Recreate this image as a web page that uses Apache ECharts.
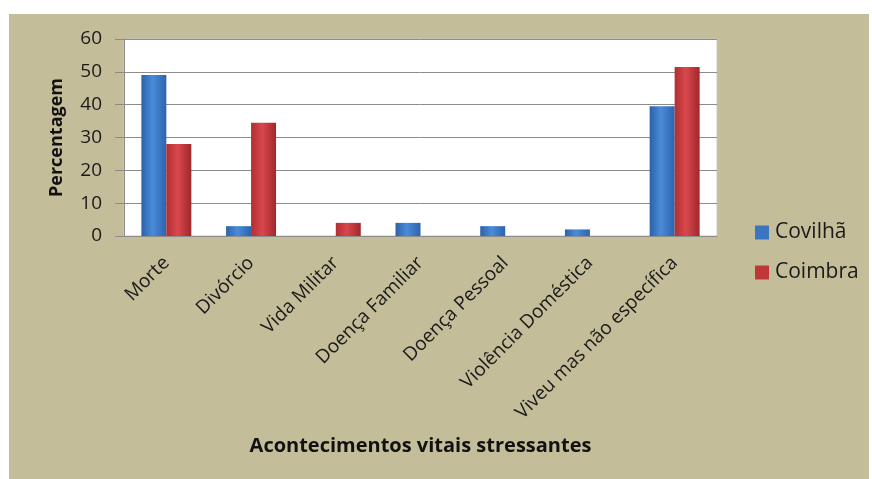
<!DOCTYPE html>
<html><head><meta charset="utf-8">
<script src="https://cdn.jsdelivr.net/npm/echarts@6/dist/echarts.min.js"></script>
<style>html,body{margin:0;padding:0;background:#fff}#c{width:872px;height:479px}</style>
</head><body><div id="c"></div>
<script>
const categories = ['Morte','Divórcio','Vida Militar','Doença Familiar','Doença Pessoal','Violência Doméstica','Viveu mas não específica'];
const covilha = [49, 3, 0, 4, 3, 2, 39.5];
const coimbra = [28, 34.5, 4, 0, 0, 0, 51.5];
const yTicks = [0, 10, 20, 30, 40, 50, 60];

const font = '"Open Sans", "Noto Sans", sans-serif';
function grad(a,b,c){
  return new echarts.graphic.LinearGradient(0,0,1,0,[
    {offset:0,color:a},{offset:0.45,color:b},{offset:1,color:c}]);
}
const chart = echarts.init(document.getElementById('c'), null, {renderer:'canvas'});
chart.setOption({
  backgroundColor:'#ffffff',
  animation:false,
  graphic:[{type:'rect', z:-10, silent:true, shape:{x:9,y:14,width:860,height:465}, style:{fill:'#C4BD99'}}],
  grid:{left:124, right:155, top:39, bottom:243, show:true, backgroundColor:'#ffffff', borderColor:'#c8c8c8', borderWidth:1},
  legend:{
    orient:'vertical', left:750, top:217, icon:'rect', itemWidth:14, itemHeight:14, itemGap:19,
    textStyle:{fontFamily:font, fontSize:21, color:'#1a1a1a', padding:[0,0,0,1]},
    data:[{name:'Covilhã', itemStyle:{color:'#3A75C0'}},{name:'Coimbra', itemStyle:{color:'#C0373A'}}]
  },
  xAxis:{
    type:'category', data:categories,
    axisLine:{lineStyle:{color:'#8c8c8c'}},
    axisTick:{show:false},
    axisLabel:{rotate:45, interval:0, fontFamily:font, fontSize:19, color:'#1a1a1a', margin:24},
    name:'Acontecimentos vitais stressantes', nameLocation:'middle', nameGap:200,
    nameTextStyle:{fontFamily:font, fontSize:20, fontWeight:'bold', color:'#111'}
  },
  yAxis:{
    type:'value', min:yTicks[0], max:yTicks[yTicks.length-1], interval:10,
    axisLine:{show:true, lineStyle:{color:'#8c8c8c'}},
    axisTick:{show:true, length:9, lineStyle:{color:'#8c8c8c'}},
    splitLine:{lineStyle:{color:'#8c8c8c'}},
    axisLabel:{fontFamily:font, fontSize:19, color:'#1a1a1a', margin:22},
    name:'Percentagem', nameLocation:'middle', nameGap:58, nameRotate:90,
    nameTextStyle:{fontFamily:font, fontSize:18, fontWeight:'bold', color:'#111'}
  },
  series:[
    {name:'Covilhã', type:'bar', data:covilha, barGap:'0%', barCategoryGap:'41%',
     itemStyle:{color:grad('#2C62A8','#4A8BD9','#2D63AC')}},
    {name:'Coimbra', type:'bar', data:coimbra,
     itemStyle:{color:grad('#B02F33','#D9474B','#A0282C')}}
  ]
});
</script></body></html>
